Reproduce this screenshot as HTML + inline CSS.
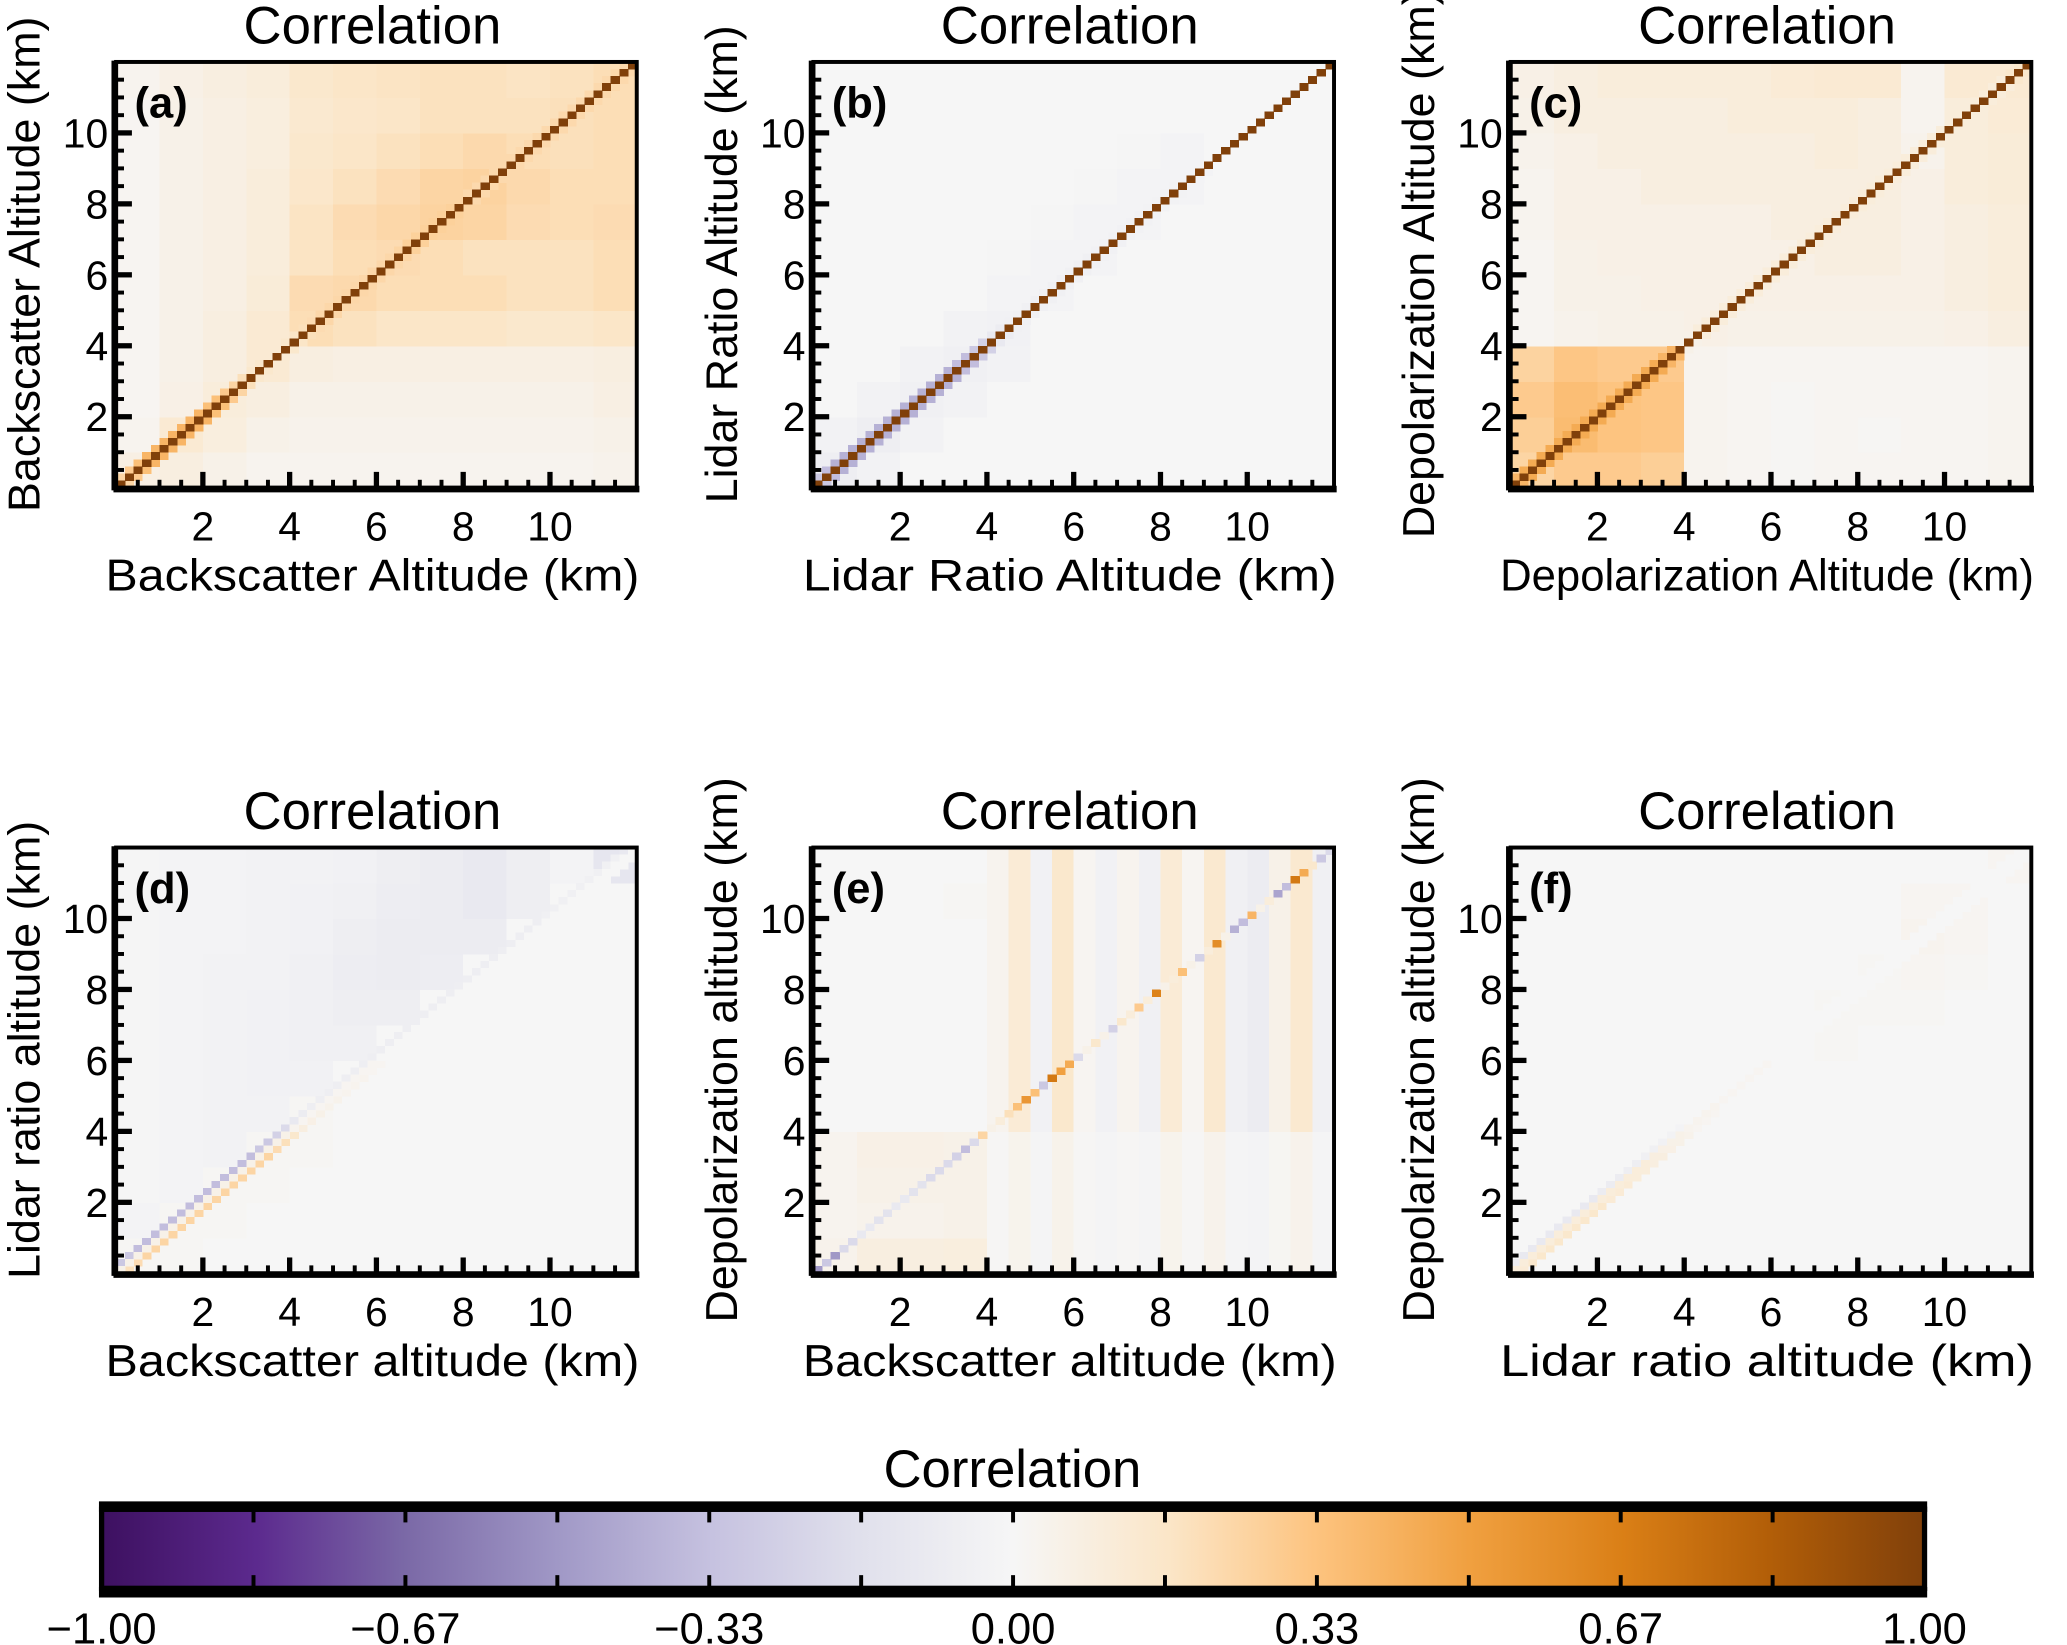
<!DOCTYPE html>
<html><head><meta charset="utf-8"><style>
html,body{margin:0;padding:0;background:#fff}
svg{display:block}
text{font-family:"Liberation Sans",sans-serif;fill:#000}
</style></head><body>
<svg id="fig" xmlns="http://www.w3.org/2000/svg" width="2067" height="1645" viewBox="0 0 1568 1248">
<defs>
<linearGradient id="cbgrad" x1="0" x2="1" y1="0" y2="0"></linearGradient>
</defs>
<g id="panels"></g>
<g id="colorbar"></g>
</svg>
<script>
// ---- data, rows top (y 11-12 km) to bottom (0-1 km) ----
const tickValues = [2, 4, 6, 8, 10];
const cbTicks = ["-1.00", "-0.67", "-0.33", "0.00", "0.33", "0.67", "1.00"];
const panelLetters = ["(a)", "(b)", "(c)", "(d)", "(e)", "(f)"];
const xLabels = ["Backscatter Altitude  (km)", "Lidar Ratio Altitude  (km)", "Depolarization Altitude (km)", "Backscatter altitude (km)", "Backscatter altitude (km)", "Lidar ratio altitude (km)"];
const yLabels = ["Backscatter Altitude (km)", "Lidar Ratio Altitude (km)", "Depolarization Altitude (km)", "Lidar ratio altitude (km)", "Depolarization altitude (km)", "Depolarization altitude (km)"];

const matA = [
[0.03,0.06,0.08,0.10,0.15,0.17,0.18,0.19,0.19,0.18,0.19,0.21],
[0.02,0.05,0.07,0.09,0.14,0.16,0.17,0.19,0.19,0.19,0.20,0.21],
[0.02,0.05,0.07,0.09,0.15,0.17,0.19,0.21,0.23,0.21,0.20,0.21],
[0.02,0.05,0.07,0.10,0.16,0.19,0.22,0.25,0.26,0.23,0.21,0.21],
[0.02,0.05,0.07,0.10,0.18,0.22,0.24,0.26,0.25,0.22,0.21,0.22],
[0.02,0.05,0.07,0.10,0.18,0.21,0.22,0.21,0.19,0.19,0.19,0.21],
[0.02,0.05,0.07,0.11,0.22,0.23,0.21,0.21,0.21,0.19,0.19,0.21],
[0.02,0.05,0.08,0.13,0.21,0.19,0.17,0.17,0.17,0.15,0.15,0.17],
[0.02,0.05,0.08,0.13,0.08,0.07,0.07,0.07,0.07,0.07,0.07,0.08],
[0.02,0.06,0.10,0.08,0.05,0.05,0.05,0.05,0.05,0.05,0.05,0.07],
[0.03,0.13,0.09,0.05,0.04,0.04,0.04,0.04,0.04,0.04,0.04,0.05],
[0.07,0.08,0.05,0.03,0.03,0.03,0.03,0.03,0.03,0.03,0.03,0.04]];
const matB = [
[0,0,0,0,0,0,0,0,0,0,0,0],
[0,0,0,0,0,0,0,0,0,0,0,0],
[0,0,0,0,0,0,0,-0.01,-0.02,0,0,0],
[0,0,0,0,0,0,-0.01,-0.02,-0.02,0,0,0],
[0,0,0,0,0,-0.01,-0.02,-0.02,0,0,0,0],
[0,0,0,0,-0.01,-0.02,-0.02,0,0,0,0,0],
[0,0,0,0,-0.02,-0.02,0,0,0,0,0,0],
[0,0,0,-0.03,-0.04,0,0,0,0,0,0,0],
[0,0,-0.03,-0.05,-0.03,0,0,0,0,0,0,0],
[0,-0.03,-0.05,-0.03,0,0,0,0,0,0,0,0],
[-0.03,-0.06,-0.03,0,0,0,0,0,0,0,0,0],
[-0.06,-0.03,0,0,0,0,0,0,0,0,0,0]];
const matC = [
[0.06,0.08,0.10,0.10,0.10,0.10,0.12,0.13,0.13,0.03,0.13,0.13],
[0.05,0.08,0.08,0.08,0.08,0.10,0.10,0.10,0.08,0.03,0.10,0.12],
[0.04,0.06,0.08,0.08,0.08,0.08,0.08,0.10,0.08,0.04,0.10,0.11],
[0.03,0.06,0.06,0.08,0.08,0.08,0.08,0.08,0.08,0.06,0.10,0.11],
[0.03,0.06,0.06,0.06,0.06,0.06,0.08,0.08,0.08,0.06,0.08,0.10],
[0.02,0.05,0.06,0.06,0.06,0.06,0.06,0.08,0.08,0.06,0.08,0.10],
[0.02,0.05,0.05,0.06,0.06,0.06,0.06,0.06,0.06,0.06,0.08,0.10],
[0.02,0.04,0.05,0.05,0.06,0.05,0.05,0.05,0.05,0.05,0.06,0.08],
[0.26,0.32,0.30,0.30,0.03,0.02,0.02,0.02,0.02,0.02,0.02,0.03],
[0.30,0.36,0.33,0.32,0.03,0.02,0.01,0.02,0.02,0.02,0.02,0.03],
[0.28,0.37,0.33,0.32,0.03,0.02,0.01,0.02,0.01,0.02,0.02,0.03],
[0.25,0.30,0.30,0.28,0.03,0.02,0.01,0.02,0.02,0.02,0.02,0.03]];
const matD = [
[-0.01,-0.02,-0.02,-0.03,-0.03,-0.04,-0.06,-0.08,-0.10,-0.06,-0.02,-0.12],
[-0.01,-0.02,-0.02,-0.03,-0.04,-0.05,-0.07,-0.08,-0.10,-0.06,0,0],
[-0.01,-0.02,-0.02,-0.03,-0.04,-0.06,-0.08,-0.08,-0.08,0,0,0],
[-0.01,-0.02,-0.03,-0.03,-0.05,-0.07,-0.08,-0.07,0,0,0,0],
[-0.01,-0.02,-0.03,-0.04,-0.05,-0.06,-0.06,0,0,0,0,0],
[-0.01,-0.02,-0.03,-0.04,-0.05,-0.05,0,0,0,0,0,0],
[-0.01,-0.02,-0.03,-0.04,-0.04,0,0,0,0,0,0,0],
[-0.01,-0.02,-0.03,-0.03,0.01,0,0,0,0,0,0,0],
[-0.01,-0.02,-0.03,0.01,0.01,0,0,0,0,0,0,0],
[-0.01,-0.02,0.01,0.01,0,0,0,0,0,0,0,0],
[-0.02,0.01,0.01,0,0,0,0,0,0,0,0,0],
[0.01,0.01,0,0,0,0,0,0,0,0,0,0]];
const matE = [
[0,0,0,0,0,0,0,0,0,0,0,0],
[0,0,0,0.01,0,0,0,0,0,0,0,0],
[0,0,0,0,0,0,0,0,0,0,0,0],
[0,0,0,0,0,0,0,0,0,0,0,0],
[0,0,0,0,0,0,0,0,0,0,0,0],
[0,0,0,0,0,0,0,0,0,0,0,0],
[0,0,0,0,0,0,0,0,0,0,0,0],
[0,0,0,0,0,0,0,0,0,0,0,0],
[0.03,0.06,0.06,0.05,0,0,0,0,0,0,0,0],
[0.03,0.05,0.05,0.05,0,0,0,0,0,0,0,0],
[0.03,0.04,0.04,0.05,0,0,0,0,0,0,0,0],
[0.04,0.08,0.08,0.09,0,0,0,0,0,0,0,0]];
const matF = [
[0,0,0,0,0,0,0,0,0,0,0,0.02],
[0,0,0,0,0,0,0,0,0,0.02,0.02,0],
[0,0,0,0,0,0,0,0,0,0.03,0.02,0],
[0,0,0,0,0,0,0,0,0.01,0.02,0.01,0],
[0,0,0,0,0,0,0,0.01,0.01,0.01,0,0],
[0,0,0,0,0,0,0,0.01,0,0,0,0],
[0,0,0,0,0,0,0,0,0,0,0,0],
[0,0,0,0,0,0,0,0,0,0,0,0],
[0,0,0,0,0,0,0,0,0,0,0,0],
[0,0,0,0,0,0,0,0,0,0,0,0],
[0,0,0,0,0,0,0,0,0,0,0,0],
[0,0,0,0,0,0,0,0,0,0,0,0]];
// half-km column stripes for (e), x 0..12 km
const stripeE = [0,0,0,0,0,0,0,0,0.03,0.12,-0.04,0.15,0.02,-0.04,0.03,-0.05,0.12,0.02,0.14,-0.05,-0.08,0.05,0.14,-0.05];
// diagonal (60 cells of 0.2 km)
const diagA = [1,1,1,1,1,1,1,1,1,1, 1,1,1,1,1,1,1,1,1,1, 1,1,1,1,1,1,1,1,1,1, 1,1,1,1,1,1,1,1,1,1, 1,1,1,1,1,1,1,1,1,1, 1,1,1,1,1,1,1,1,1,1];
const bandA = [0.25,0.3,0.35,0.4,0.4,0.4,0.4,0.4,0.4,0.4, 0.35,0.35,0.3,0.25,0.2,0.15,0.15,0.13,0.13,0.15, 0.17,0.2,0.22,0.24,0.24,0.24,0.24,0.24,0.24,0.24, 0.24,0.24,0.25,0.27,0.27,0.27,0.27,0.27,0.27,0.25, 0.23,0.23,0.23,0.23,0.23,0.23,0.23,0.23,0.23,0.23, 0.23,0.23,0.23,0.23,0.23,0.23,0.23,0.23,0.23,0.23];
const bandB = [-0.3,-0.35,-0.4,-0.4,-0.4,-0.4,-0.4,-0.4,-0.4,-0.4, -0.4,-0.4,-0.4,-0.4,-0.4,-0.4,-0.35,-0.35,-0.3,-0.25, -0.1,-0.08,-0.05,-0.05,-0.05,-0.05,-0.05,-0.05,-0.05,-0.05, -0.05,-0.05,-0.04,-0.04,-0.04,-0.04,-0.04,-0.04,-0.03,-0.03, -0.03,-0.03,-0.02,-0.02,-0.02,0,0,0,0,0, 0,0,0,0,0,0,0,0,0,0];
const diagC = diagA;
const bandC = [0.4,0.45,0.45,0.45,0.45,0.45,0.45,0.45,0.45,0.45, 0.45,0.45,0.45,0.45,0.45,0.45,0.45,0.4,0.4,0.05, 0.05,0.1,0.1,0.1,0.1,0.1,0.1,0.1,0.1,0.1, 0.1,0.1,0.1,0.1,0.1,0.1,0.1,0.1,0.1,0.1, 0.1,0.1,0.1,0.1,0.1,0.1,0.1,0.1,0.1,0.1, 0.1,0.1,0.1,0.1,0.1,0.1,0.1,0.15,0.15,0.15];
const diagD = [0.05,0.05,0.05,0.05,0.05,0.05,0.05,0.05,0.05,0.05, 0.05,0.05,0.05,0.05,0.05,0.05,0.05,0.05,0.05,0.05, 0.03,0.02,0.02,0.02,0.02,0.02,0.02,0.02,0.02,0.02, 0,0,0,0,0,0,0,0,0,0, 0,0,0,0,0,0,0,0,0,0, 0,0,0,0,0,0,0,0,0,0];
const upD = [-0.3,-0.3,-0.35,-0.35,-0.35,-0.35,-0.35,-0.35,-0.35,-0.35, -0.35,-0.35,-0.35,-0.35,-0.35,-0.35,-0.3,-0.3,-0.25,-0.2, -0.1,-0.08,-0.06,-0.06,-0.06,-0.06,-0.06,-0.06,-0.06,-0.06, -0.06,-0.06,-0.06,-0.06,-0.06,-0.06,-0.06,-0.06,-0.06,-0.06, -0.06,-0.06,-0.06,-0.06,-0.06,-0.06,-0.06,-0.06,-0.06,-0.05, -0.05,-0.05,-0.05,-0.05,-0.05,-0.05,-0.05,-0.05,-0.1,-0.12];
const loD = [0.2,0.22,0.25,0.25,0.25,0.25,0.25,0.25,0.25,0.25, 0.25,0.25,0.25,0.25,0.25,0.25,0.25,0.22,0.2,0.15, 0.08,0.06,0.05,0.04,0.04,0.03,0.03,0.03,0.02,0.02, 0,0,0,0,0,0,0,0,0,0, 0,0,0,0,0,0,0,0,0,0, 0,0,0,0,0,0,0,0,0,0];
const diagE = [-0.5,-0.3,-0.5,-0.2,-0.2,-0.1,-0.1,-0.15,-0.15,-0.1, -0.1,-0.15,-0.15,-0.2,-0.2,-0.2,-0.25,-0.35,-0.2,0.25, 0.05,0.1,0.2,0.35,0.55,0.35,-0.3,0.7,0.5,0.45, -0.2,0.05,0.15,0.05,-0.25,0.15,0.1,0.3,0.1,0.65, 0.05,0.1,0.35,0.05,-0.25,0.1,0.6,0.05,-0.4,-0.35, 0.4,0.05,0.1,-0.45,-0.35,0.7,0.45,0.15,-0.3,-0.2];
const diagF = [0.1,0.1,0.1,0.1,0.1,0.1,0.1,0.1,0.1,0.1, 0.1,0.1,0.1,0.1,0.1,0.1,0.08,0.06,0.05,0.05, 0.03,0.03,0.03,0.03,0.02,0.02,0.02,0.02,0.02,0.02, 0,0,0,0,0,0,0,0,0,0, 0,0,0,0,0,0,0,0,0,0, 0,0,0,0,0,0,0,0,0,0];
const upF = [-0.08,-0.1,-0.1,-0.1,-0.1,-0.1,-0.1,-0.1,-0.1,-0.1, -0.08,-0.08,-0.08,-0.06,-0.06,-0.05,-0.05,-0.04,-0.03,-0.02, 0,0,0,0,0,0,0,0,0,0, 0,0,0,0,0,0,0,0,0,0, 0,0,0,0,0,0,0,0,0,0, 0,0,0,0,0,0,0,0,0,0];
const loF = [0.12,0.15,0.15,0.15,0.15,0.15,0.15,0.15,0.15,0.15, 0.12,0.12,0.12,0.1,0.1,0.08,0.08,0.06,0.05,0.04, 0.02,0.02,0.02,0,0,0,0,0,0,0, 0,0,0,0,0,0,0,0,0,0, 0,0,0,0,0,0,0,0,0,0, 0,0,0,0,0,0,0,0,0,0];

// ---- colormap ----
const cmap = [[-1,[61,16,96]],[-0.83,[92,42,142]],[-0.67,[122,104,166]],[-0.5,[160,152,198]],[-0.33,[198,194,224]],[-0.17,[224,224,236]],[0,[246,246,246]],[0.17,[251,230,200]],[0.33,[253,196,128]],[0.5,[240,160,64]],[0.67,[218,127,22]],[0.83,[178,94,8]],[1,[128,64,10]]];
function color(v){
  v=Math.max(-1,Math.min(1,v));
  for(let i=0;i<cmap.length-1;i++){
    const a=cmap[i],b=cmap[i+1];
    if(v<=b[0]){const t=(v-a[0])/(b[0]-a[0]);
      return 'rgb('+a[1].map((c,k)=>Math.round(c+(b[1][k]-c)*t)).join(',')+')';}
  }
  return 'rgb(128,64,10)';
}
const NS='http://www.w3.org/2000/svg';
function mk(tag,attrs,parent){const e=document.createElementNS(NS,tag);for(const k in attrs)e.setAttribute(k,attrs[k]);parent.appendChild(e);return e;}

const panels=[
 {m:matA,diag:diagA,up:bandA,lo:bandA},
 {m:matB,diag:diagA,up:bandB,lo:bandB},
 {m:matC,diag:diagC,up:bandC,lo:bandC},
 {m:matD,diag:diagD,up:upD,lo:loD},
 {m:matE,diag:diagE,stripe:stripeE},
 {m:matF,diag:diagF,up:upF,lo:loF}];
const LEFTS=[88,617,1146], TOPS=[47,643], W=395, H=323, KM=12;
const root=document.getElementById('panels');
const defs=document.querySelector('defs');

panels.forEach((p,pi)=>{
  const L=LEFTS[pi%3], T=TOPS[Math.floor(pi/3)];
  const xs=km=>L+km/KM*W, ys=km=>T+H-km/KM*H;
  const cp=mk('clipPath',{id:'clip'+pi},defs);
  mk('rect',{x:L,y:T,width:W,height:H},cp);
  const g=mk('g',{},root);
  
  
  const cg=mk('g',{'clip-path':'url(#clip'+pi+')'},g);
  for(let r=0;r<24;r++){for(let c=0;c<24;c++){
    const y0=r*0.5, x0=c*0.5;
    let v=p.m[11-Math.floor(y0)][Math.floor(x0)];
    if(p.stripe) v+=p.stripe[c]*(y0>=4?1:0.3);
    const cell=mk('rect',{x:xs(x0),y:ys(y0+0.5),width:xs(x0+0.5)-xs(x0)+0.4,height:ys(y0)-ys(y0+0.5)+0.4,fill:color(v),'shape-rendering':'crispEdges'},cg);
    
    
  }}
  const d=KM/p.diag.length;
  p.diag.forEach((v,i)=>{
    const k=i*d;
    if(p.up){
      const u=mk('rect',{x:xs(k),y:ys(k+2*d),width:xs(d)-L+0.4,height:ys(0)-ys(d)+0.4,fill:color(p.up[i]),'shape-rendering':'crispEdges'},cg);
      
      
      const lo=mk('rect',{x:xs(k+d),y:ys(k+d),width:xs(d)-L+0.4,height:ys(0)-ys(d)+0.4,fill:color(p.lo[i]),'shape-rendering':'crispEdges'},cg);
      
      
    }
    const dc=mk('rect',{x:xs(k),y:ys(k+d),width:xs(d)-L+0.4,height:ys(0)-ys(d)+0.4,fill:color(v),'shape-rendering':'crispEdges'},cg);
    
    
  });
  const fr=mk('rect',{x:L,y:T,width:W,height:H,fill:'none',stroke:'#000','stroke-width':3},g);
  
  
  mk('line',{x1:L-1,y1:T-1,x2:L-1,y2:T+H+2,stroke:'#000','stroke-width':5},g);
  mk('line',{x1:L-2,y1:T+H+1,x2:L+W+2,y2:T+H+1,stroke:'#000','stroke-width':5},g);
  for(let t=0.5;t<KM;t+=0.5){
    const major=Math.abs(t%2)<1e-6;
    const len=major?12:6;
    mk('line',{x1:xs(t),y1:T+H,x2:xs(t),y2:T+H-len,stroke:'#000','stroke-width':major?4:3},g);
    mk('line',{x1:L,y1:ys(t),x2:L+len,y2:ys(t),stroke:'#000','stroke-width':major?4:3},g);
  }
  tickValues.forEach(t=>{
    const tx=mk('text',{x:xs(t),y:T+H+40,'font-size':31,'text-anchor':'middle'},g);
    tx.textContent=t;
    
    
    const ty=mk('text',{x:L-6,y:ys(t)+11,'font-size':31,'text-anchor':'end'},g);
    ty.textContent=t;
    
    
  });
  const ti=mk('text',{x:L+W/2-3,y:T-14,'font-size':40,'text-anchor':'middle'},g);
  ti.textContent='Correlation';
  
  
  const pl=mk('text',{x:L+14,y:T+42,'font-size':33,'font-weight':'bold'},g);
  pl.textContent=panelLetters[pi];
  
  
  const xl=mk('text',{x:L+W/2-3,y:T+H+78,'font-size':34,'text-anchor':'middle','textLength':W+10,'lengthAdjust':'spacingAndGlyphs'},g);
  xl.textContent=xLabels[pi];
  
  
  const cx=L-58, cy=T+H/2-8;
  const yl=mk('text',{x:cx,y:cy,'font-size':34,'text-anchor':'middle',transform:'rotate(-90 '+cx+' '+cy+')'},g);
  yl.textContent=yLabels[pi];
  
  
});

const grad=document.getElementById('cbgrad');
cmap.forEach(s=>{mk('stop',{offset:((s[0]+1)/2*100)+'%','stop-color':color(s[0])},grad);});
const cb=document.getElementById('colorbar');
const CL=77, CR=1460, CT=1145, CB=1205;
mk('rect',{x:CL,y:CT,width:CR-CL,height:CB-CT,fill:'url(#cbgrad)',stroke:'#000','stroke-width':4},cb);
mk('line',{x1:CL-2,y1:CT-2,x2:CR+2,y2:CT-2,stroke:'#000','stroke-width':8},cb);
mk('line',{x1:CL-2,y1:CB+3,x2:CR+2,y2:CB+3,stroke:'#000','stroke-width':8},cb);
for(let i=1;i<12;i++){
  const x=CL+(CR-CL)*i/12;
  mk('line',{x1:x,y1:CT,x2:x,y2:CT+10,stroke:'#000','stroke-width':3},cb);
  mk('line',{x1:x,y1:CB,x2:x,y2:CB-10,stroke:'#000','stroke-width':3},cb);
}
cbTicks.forEach((t,i)=>{
  const tx=mk('text',{x:CL+(CR-CL)*i/6,y:1247,'font-size':33,'text-anchor':'middle'},cb);
  tx.textContent=t.replace('-','\u2212');
  
  
});
const ct=mk('text',{x:768,y:1128,'font-size':40,'text-anchor':'middle'},cb);
ct.textContent='Correlation';


</script>
</body></html>
